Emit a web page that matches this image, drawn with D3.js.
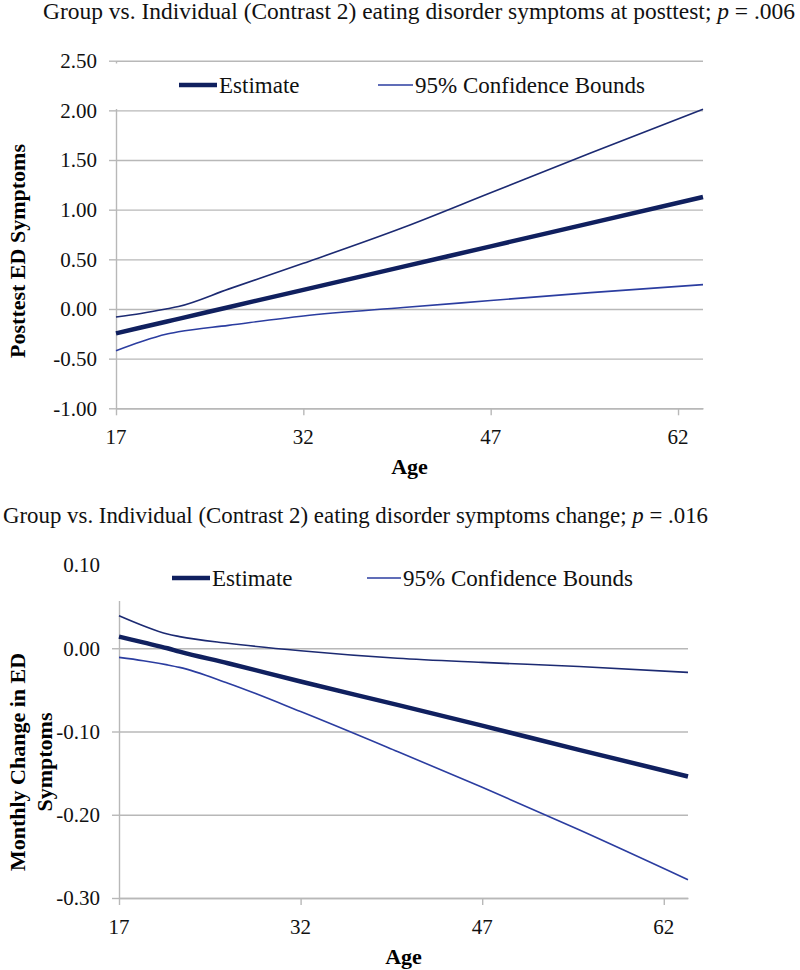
<!DOCTYPE html>
<html>
<head>
<meta charset="utf-8">
<script src="https://cdn.jsdelivr.net/npm/d3@7"></script>
<style>
  body { margin: 0; background: #fff; }
  svg text { font-family: "Liberation Serif", "Times New Roman", serif; }
</style>
</head>
<body>
<svg id="chart" width="800" height="970"></svg>
<script>
// ---------- DATA ----------
const ages = [17, 19, 21, 22, 26, 32, 40, 47, 55, 64];

// Chart 1: posttest ED symptoms
const postEstimate = [-0.245, -0.187, -0.128, -0.099, 0.018, 0.193, 0.426, 0.631, 0.864, 1.127];
const postUpper    = [-0.08, -0.045, 0.0, 0.025, 0.20, 0.46, 0.82, 1.17, 1.57, 2.01];
const postLower    = [-0.42, -0.33, -0.255, -0.23, -0.165, -0.07, 0.015, 0.085, 0.165, 0.245];
const postYTicks   = [-1.0, -0.5, 0.0, 0.5, 1.0, 1.5, 2.0, 2.5];

// Chart 2: monthly change in ED symptoms
const chgEstimate = [0.014, 0.007, 0.000, -0.004, -0.018, -0.040, -0.068, -0.093, -0.122, -0.154];
const chgUpper    = [0.039, 0.027, 0.017, 0.014, 0.006, -0.003, -0.012, -0.017, -0.022, -0.029];
const chgLower    = [-0.011, -0.015, -0.020, -0.023, -0.042, -0.076, -0.124, -0.167, -0.218, -0.278];
const chgYTicks   = [-0.3, -0.2, -0.1, 0.0, 0.1];

const xTicks = [17, 32, 47, 62];
const legendLabels = ["Estimate", "95% Confidence Bounds"];

// ---------- STYLE ----------
const FONT = '"Liberation Serif", "Times New Roman", serif';
const cEst = "#10205f", cUp = "#1c2a72", cLo = "#2b3da0", cLegCI = "#2b3da0";
const gridColor = "#b8b8b8";
const fmt = d3.formatLocale({decimal: ".", thousands: ",", grouping: [3], currency: ["", ""], minus: "-"}).format(".2f");

const svg = d3.select("#chart");

function drawChart(o) {
  const g = svg.append("g").attr("font-family", FONT);
  const x = d3.scaleLinear().domain([17, 64]).range([o.left, o.right]);
  const y = d3.scaleLinear().domain([o.yTicks[0], o.yTicks[o.yTicks.length - 1]]).range([o.bottom, o.top]);

  // gridlines
  const yAxis = d3.axisLeft(y).tickValues(o.yTicks).tickSize(-(o.right - o.left)).tickSizeOuter(0).tickFormat("");
  const ga = g.append("g").attr("transform", `translate(${o.left},0)`).call(yAxis);
  ga.select(".domain").remove();
  ga.selectAll(".tick line").attr("stroke", gridColor).attr("stroke-width", 1.4);
  // left tick stubs + axis line
  const ys = g.append("g").attr("transform", `translate(${o.left},0)`)
    .call(d3.axisLeft(y).tickValues(o.yTicks).tickSize(7).tickSizeOuter(0).tickFormat(""));
  ys.select(".domain").attr("stroke", gridColor).attr("stroke-width", 1.4);
  ys.selectAll(".tick line").attr("stroke", gridColor).attr("stroke-width", 1.4);

  // x axis
  const xa = g.append("g").attr("transform", `translate(0,${o.bottom})`)
    .call(d3.axisBottom(x).tickValues(xTicks).tickSize(7).tickSizeOuter(0).tickFormat(""));
  xa.select(".domain").attr("stroke", gridColor).attr("stroke-width", 1.4);
  xa.selectAll(".tick line").attr("stroke", gridColor).attr("stroke-width", 1.4);

  // legend background (covers plot area top)
  g.append("rect").attr("x", o.left - 12).attr("y", o.legTop).attr("width", o.right - o.left + 14)
    .attr("height", o.legBottom - o.legTop).attr("fill", "#fff");

  // lines
  const line = vals => d3.line().x((d, i) => x(ages[i])).y(d => y(d)).curve(d3.curveMonotoneX)(vals);
  g.append("path").attr("d", line(o.lower)).attr("fill", "none").attr("stroke", cLo).attr("stroke-width", 1.6);
  g.append("path").attr("d", line(o.upper)).attr("fill", "none").attr("stroke", cUp).attr("stroke-width", 1.6);
  g.append("path").attr("d", line(o.est)).attr("fill", "none").attr("stroke", cEst).attr("stroke-width", 4.5);

  // y tick labels
  g.append("g").selectAll("text").data(o.yTicks).join("text")
    .attr("font-family", FONT)
    .attr("x", o.labelRight).attr("y", d => y(d)).attr("dy", "0.35em")
    .attr("text-anchor", "end").attr("font-size", 21).attr("fill", "#111")
    .text(d => fmt(d));
  // x tick labels
  g.append("g").selectAll("text").data(xTicks).join("text")
    .attr("font-family", FONT)
    .attr("x", d => x(d)).attr("y", o.bottom + 36)
    .attr("text-anchor", "middle").attr("font-size", 21).attr("fill", "#111")
    .text(d => d);
  // x title
  g.append("text").attr("font-family", FONT).attr("x", (o.left + o.right) / 2).attr("y", o.bottom + 66)
    .attr("text-anchor", "middle").attr("font-size", 22).attr("font-weight", "bold").text("Age");
  // y title
  const yt = g.append("text").attr("font-family", FONT)
    .attr("transform", `translate(${o.yTitleX},${o.yTitleY}) rotate(-90)`)
    .attr("text-anchor", "middle").attr("font-size", 22).attr("font-weight", "bold");
  o.yTitle.forEach((t, i) => yt.append("tspan").attr("x", 0).attr("dy", i === 0 ? 0 : 27).text(t));

  // chart title
  const tt = g.append("text").attr("font-family", FONT).attr("x", o.titleX).attr("y", o.titleY).attr("font-size", 23)
    .attr("textLength", o.titleW).attr("lengthAdjust", "spacingAndGlyphs").attr("fill", "#111");
  tt.append("tspan").text(o.title);
  tt.append("tspan").attr("font-style", "italic").text("p");
  tt.append("tspan").text(" = " + o.pval);

  // legend
  const ly = o.legY;
  g.append("line").attr("x1", o.leg1[0]).attr("x2", o.leg1[1]).attr("y1", ly).attr("y2", ly)
    .attr("stroke", cEst).attr("stroke-width", 4.5);
  g.append("text").attr("font-family", FONT).attr("x", o.leg1[1] + 2).attr("y", ly).attr("dy", "0.33em").attr("font-size", 23)
    .attr("fill", "#111").text(legendLabels[0]);
  g.append("line").attr("x1", o.leg2[0]).attr("x2", o.leg2[1]).attr("y1", ly).attr("y2", ly)
    .attr("stroke", cLegCI).attr("stroke-width", 1.6);
  g.append("text").attr("font-family", FONT).attr("x", o.leg2[1] + 2).attr("y", ly).attr("dy", "0.33em").attr("font-size", 23)
    .attr("fill", "#111").text(legendLabels[1]);
}

drawChart({
  left: 116, right: 703, top: 60.7, bottom: 408.3,
  yTicks: postYTicks, est: postEstimate, upper: postUpper, lower: postLower,
  legTop: 63.5, legBottom: 109, legY: 85, leg1: [179, 217], leg2: [378, 413],
  labelRight: 97,
  yTitle: ["Posttest ED Symptoms"], yTitleX: 25, yTitleY: 251,
  title: "Group vs. Individual (Contrast 2) eating disorder symptoms at posttest; ", pval: ".006",
  titleX: 43, titleY: 19, titleW: 752
});

drawChart({
  left: 119, right: 688, top: 565, bottom: 898,
  yTicks: chgYTicks, est: chgEstimate, upper: chgUpper, lower: chgLower,
  legTop: 552, legBottom: 601, legY: 578, leg1: [172, 210], leg2: [367, 401],
  labelRight: 100,
  yTitle: ["Monthly Change in ED", "Symptoms"], yTitleX: 25, yTitleY: 762,
  title: "Group vs. Individual (Contrast 2) eating disorder symptoms change; ", pval: ".016",
  titleX: 3, titleY: 523, titleW: 705
});
</script>
</body>
</html>
